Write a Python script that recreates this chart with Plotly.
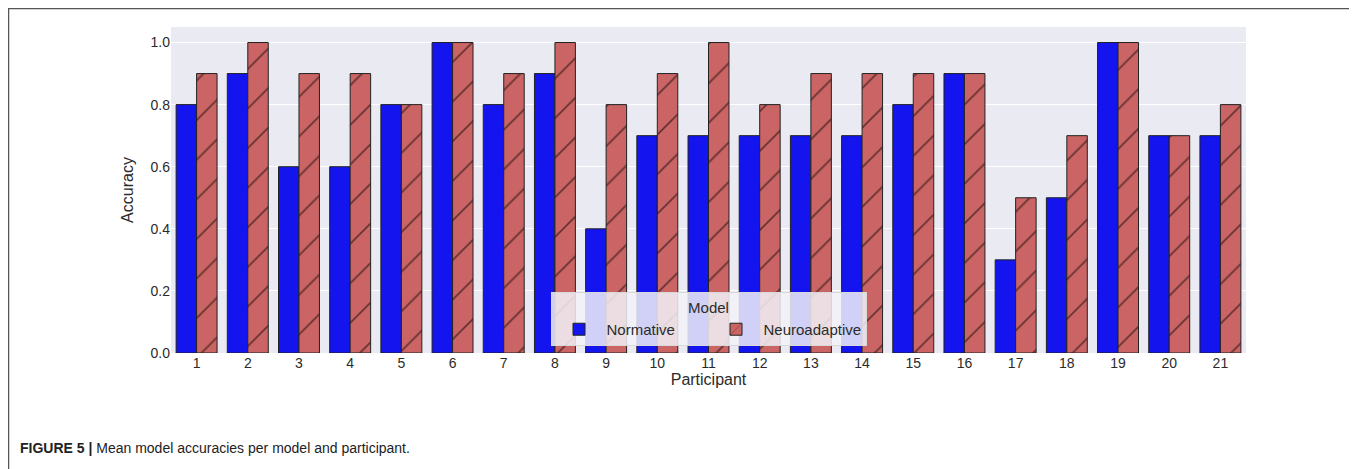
import plotly.graph_objects as go

participants = [str(i) for i in range(1, 22)]
normative = [0.8, 0.9, 0.6, 0.6, 0.8, 1.0, 0.8, 0.9, 0.4, 0.7, 0.7, 0.7, 0.7, 0.7, 0.8, 0.9, 0.3, 0.5, 1.0, 0.7, 0.7]
neuroadaptive = [0.9, 1.0, 0.9, 0.9, 0.8, 1.0, 0.9, 1.0, 0.8, 0.9, 1.0, 0.8, 0.9, 0.9, 0.9, 0.9, 0.5, 0.7, 1.0, 0.7, 0.8]
y_ticks = [0.0, 0.2, 0.4, 0.6, 0.8, 1.0]

OFF = 8  # default page body margin
W, H = 1357 - OFF, 469 - OFF
L, T = 171 - OFF, 27 - OFF
R = W - (1246 - OFF)
B = H - (353 - OFF)
pw, ph = W - L - R, H - T - B

def px_x(x):
    return (x - OFF - L) / pw

def px_y(y):
    return (H - B - (y - OFF)) / ph

fig = go.Figure()
fig.add_trace(go.Bar(
    x=participants, y=normative, name="Normative",
    marker=dict(color="#1414EE", line=dict(color="#222222", width=1)),
))
fig.add_trace(go.Bar(
    x=participants, y=neuroadaptive, name="Neuroadaptive",
    marker=dict(color="#CB6464", line=dict(color="#222222", width=1),
                pattern=dict(shape="/", fgcolor="black", size=28, solidity=0.06)),
))

font = "Liberation Sans, Arial, sans-serif"
fig.update_layout(
    width=W, height=H,
    margin=dict(l=L, r=R, t=T, b=B),
    barmode="group", bargap=0.2, bargroupgap=0,
    paper_bgcolor="white", plot_bgcolor="#EAEAF2",
    font=dict(family=font, size=14, color="#2b2b2b"),
    xaxis=dict(title=dict(text="Participant", font=dict(size=16), standoff=2),
               showgrid=False, ticks="", tickfont=dict(size=14), zeroline=False),
    yaxis=dict(title=dict(text="Accuracy", font=dict(size=16), standoff=12),
               range=[0, 1.05], tickvals=y_ticks, ticktext=[f"{v:.1f}" for v in y_ticks],
               gridcolor="white", gridwidth=1.3, zeroline=False, tickfont=dict(size=14)),
    legend=dict(orientation="h", x=0.5, xanchor="center", y=0.02, yanchor="bottom",
                bgcolor="rgba(242,242,248,0.85)", bordercolor="#d8d8d8", borderwidth=1,
                title=dict(text="Model", side="top center", font=dict(size=15)),
                font=dict(size=15), itemwidth=45, entrywidth=97, tracegroupgap=0),
    showlegend=True,
)

# outer frame
fig.add_shape(type="rect", xref="paper", yref="paper",
              x0=px_x(8.5), x1=px_x(1354), y0=px_y(490), y1=px_y(8.5),
              line=dict(color="#555555", width=1.5), fillcolor="rgba(0,0,0,0)", layer="below")

fig.add_annotation(xref="paper", yref="paper", x=px_x(18), y=px_y(448),
                   xanchor="left", yanchor="middle", showarrow=False,
                   text="<b>FIGURE 5 |</b> Mean model accuracies per model and participant.",
                   font=dict(family="Liberation Sans Narrow, Arial Narrow, Liberation Sans, sans-serif",
                             size=14, color="#222222"))

fig.write_html("out.html")
